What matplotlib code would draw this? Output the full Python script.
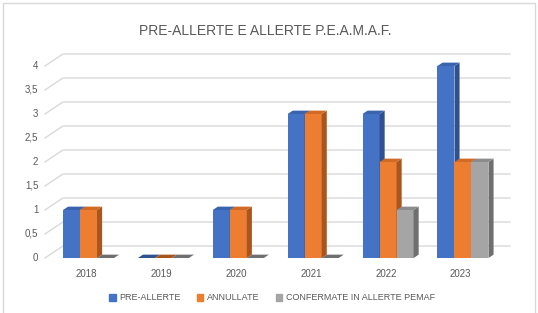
import numpy as np
import matplotlib
matplotlib.use("Agg")
import matplotlib.pyplot as plt
from matplotlib.patches import Polygon, Rectangle

years = ["2018", "2019", "2020", "2021", "2022", "2023"]
pre_allerte = [1, 0, 1, 3, 3, 4]
annullate = [1, 0, 1, 3, 2, 2]
confermate = [0, 0, 0, 0, 1, 2]
series_names = ["PRE-ALLERTE", "ANNULLATE", "CONFERMATE IN ALLERTE PEMAF"]
yticks = [0, 0.5, 1, 1.5, 2, 2.5, 3, 3.5, 4]
ytick_labels = ["0", "0,5", "1", "1,5", "2", "2,5", "3", "3,5", "4"]

# front, side, top colours for each series
colors = [("#4472c4", "#2f528f", "#3a63ad"),
          ("#ed7d31", "#a9561e", "#d06a25"),
          ("#a5a5a5", "#6f6f6f", "#8c8c8c")]

plt.rcParams["font.family"] = ["Liberation Sans", "DejaVu Sans"]
txt = "#595959"
grid_c = "#d9d9d9"

fig = plt.figure(figsize=(5.38, 3.13), dpi=100)
fig.patches.append(Rectangle((3 / 538, -0.05), 532 / 538, 1.05 - 3 / 313,
                             transform=fig.transFigure, fill=False,
                             edgecolor="#d9d9d9", linewidth=1))

ax = fig.add_axes([45 / 538, (313 - 258) / 313, 465 / 538, 208 / 313])
xmin, xmax = -0.581, 5.628
ax.set_xlim(xmin, xmax)
ax.set_ylim(0, 4.333)
ax.axis("off")

# back-wall gridlines with a short diagonal to the front
gdx, gdy = 0.24, 0.25
for v in yticks:
    ax.plot([xmin, xmin + gdx, xmax], [v, v + gdy, v + gdy],
            color=grid_c, lw=1, zorder=1, clip_on=False)

w = 0.227
ddx, ddy = 0.068, 0.07
x = np.arange(len(years))
for i, vals in enumerate([pre_allerte, annullate, confermate]):
    face, side, top = colors[i]
    lefts = x - 1.5 * w + i * w
    ax.bar(lefts, vals, width=w, align="edge", color=face, lw=0, zorder=3 + i)
    for xl, v in zip(lefts, vals):
        ax.add_patch(Polygon([(xl + w, 0), (xl + w + ddx, ddy),
                              (xl + w + ddx, v + ddy), (xl + w, v)],
                             closed=True, color=side, lw=0, zorder=3 + i))
        ax.add_patch(Polygon([(xl, v), (xl + ddx, v + ddy),
                              (xl + w + ddx, v + ddy), (xl + w, v)],
                             closed=True, color=top if v > 0 else side,
                             lw=0, zorder=3 + i))

for v, lab in zip(yticks, ytick_labels):
    ax.text(xmin - 0.09, v, lab, ha="right", va="center", fontsize=7,
            color=txt)
for xi, lab in zip(x, years):
    ax.text(xi - 0.03, -0.22, lab, ha="center", va="top", fontsize=7,
            color=txt)

fig.text(265 / 538, 1 - 31 / 313, "PRE-ALLERTE E ALLERTE P.E.A.M.A.F.",
         ha="center", va="center", fontsize=10, color=txt)

handles = [Rectangle((0, 0), 1, 1, color=c[0]) for c in colors]
fig.legend(handles, series_names, loc="center", ncol=3,
           bbox_to_anchor=(272 / 538, 1 - 298 / 313), frameon=False,
           fontsize=6.5, labelcolor=txt, handlelength=0.7, handleheight=0.7,
           handletextpad=0.4, columnspacing=1.8)

fig.savefig("out.png", dpi=100)
